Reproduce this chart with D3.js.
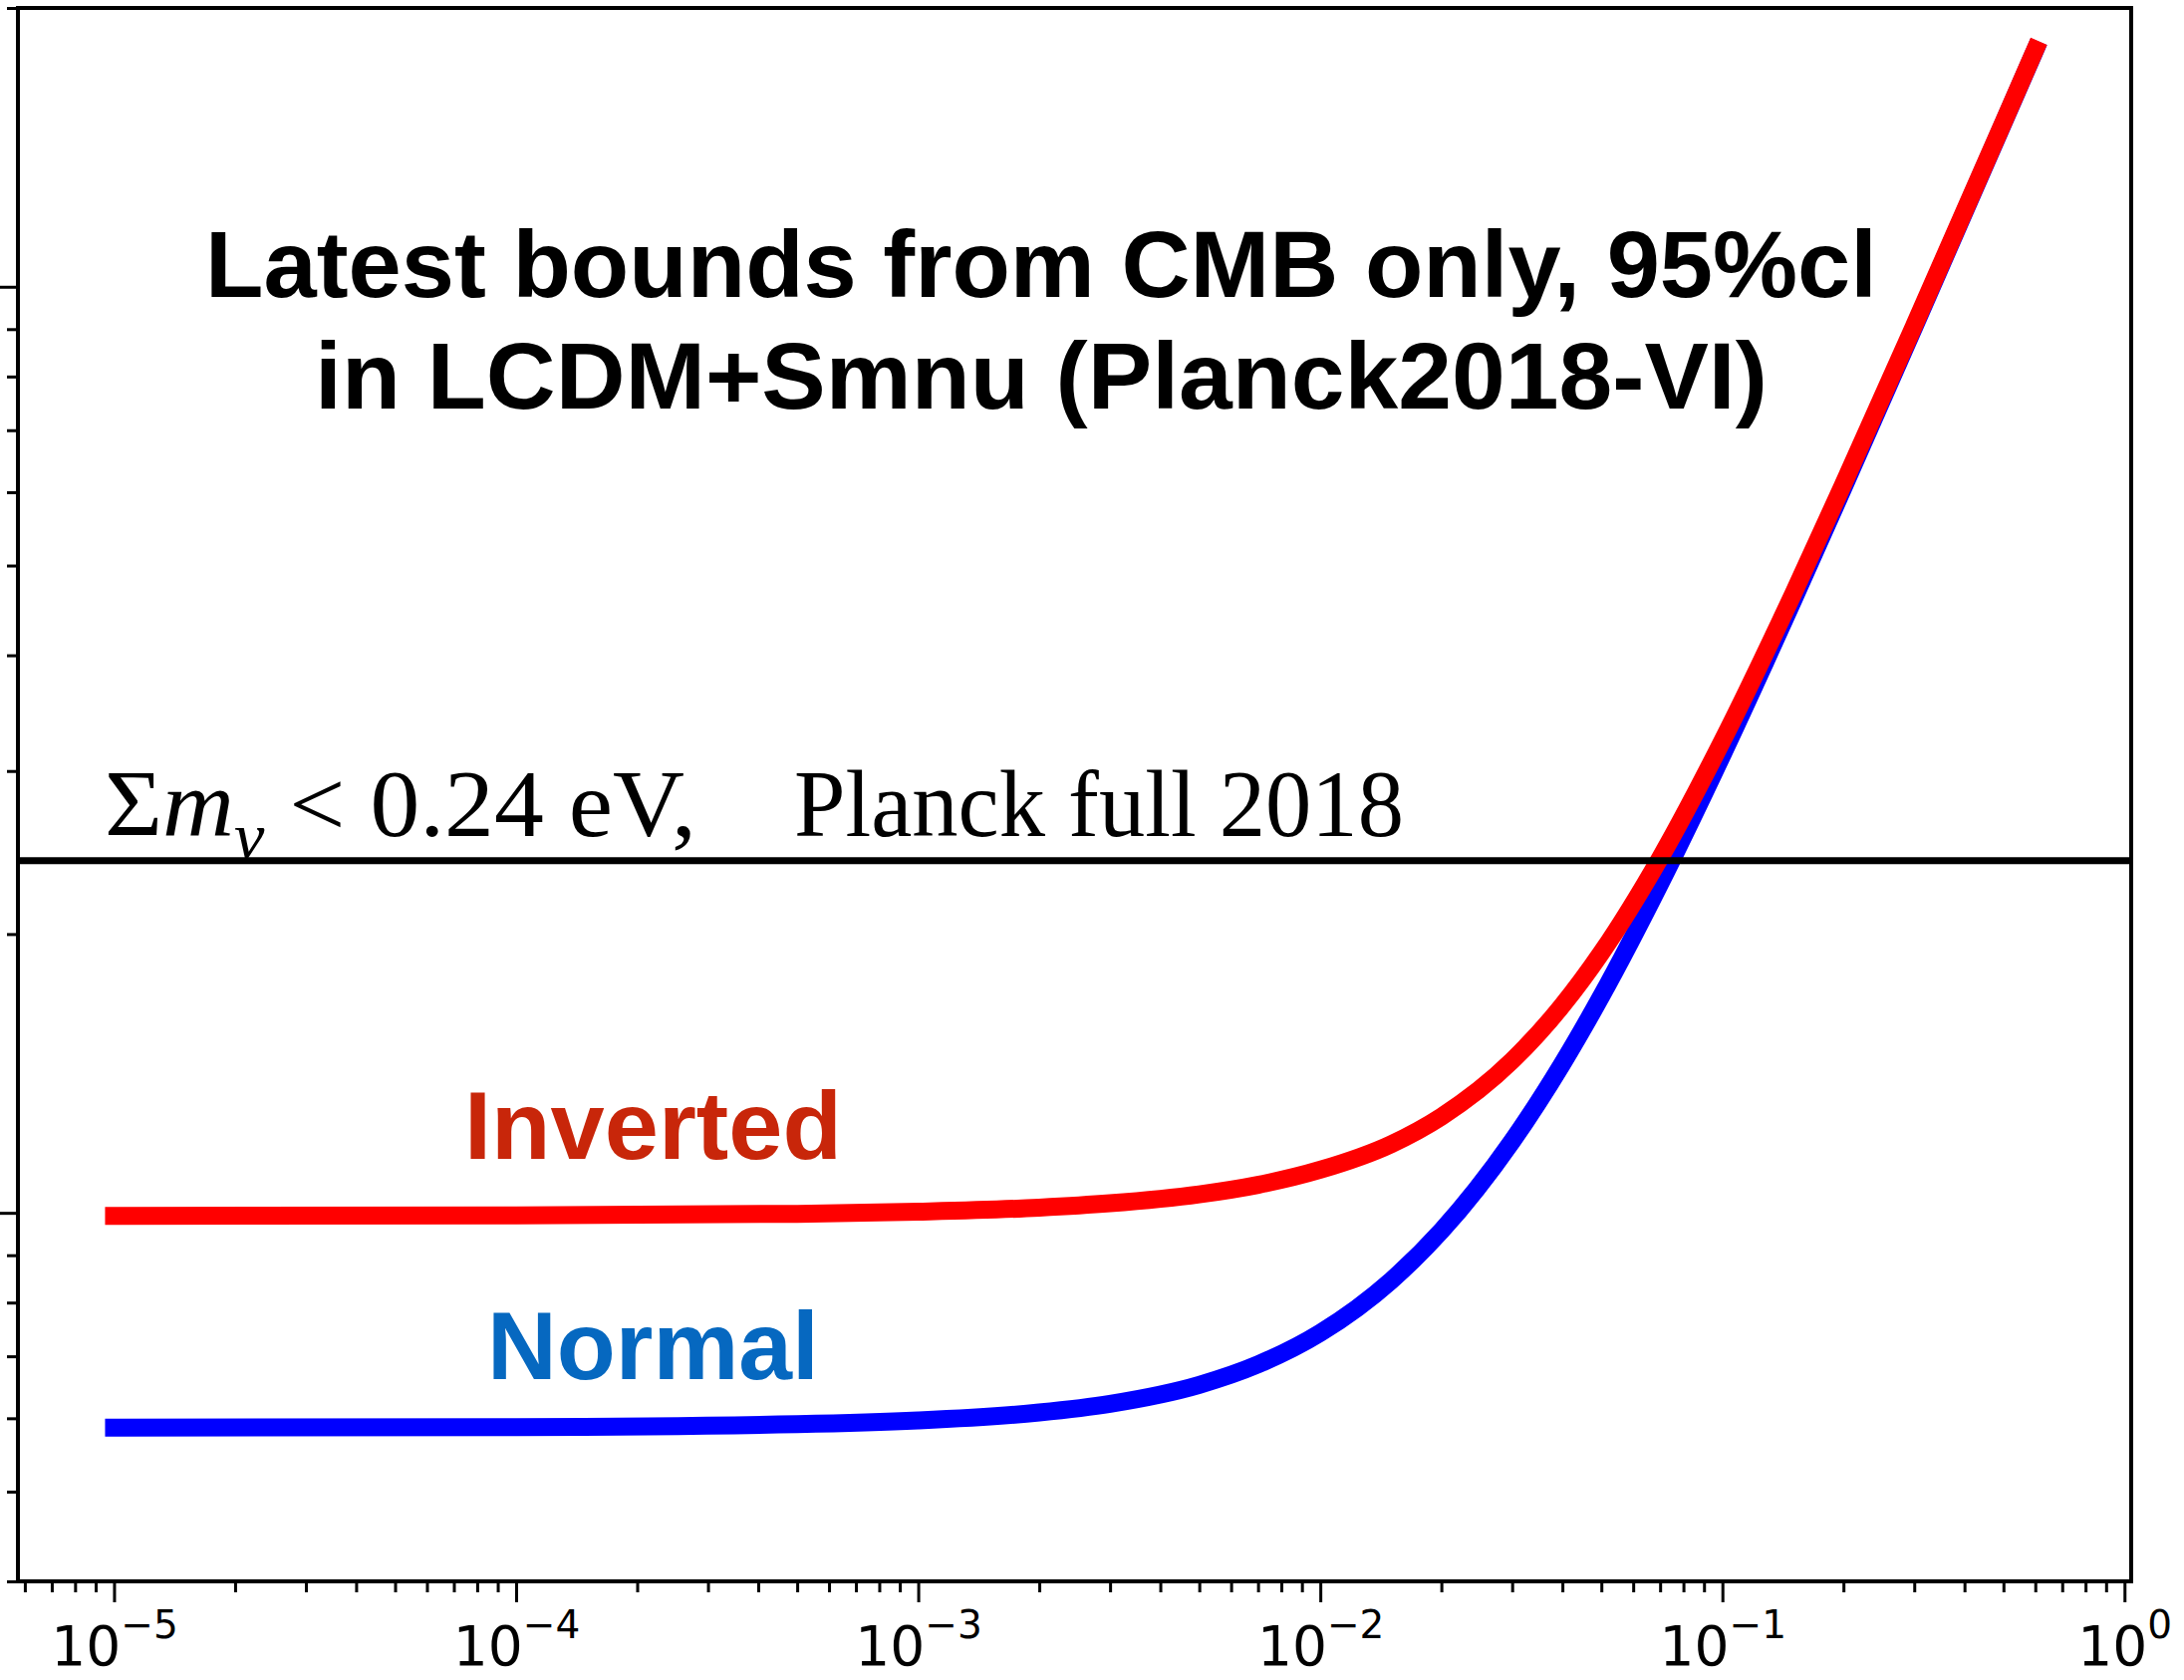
<!DOCTYPE html>
<html>
<head>
<meta charset="utf-8">
<script src="https://cdn.jsdelivr.net/npm/d3@7"></script>
<style>
  html, body { margin: 0; padding: 0; background: #ffffff; }
  svg { display: block; }
</style>
</head>
<body>
<svg id="chart" width="2192" height="1686"></svg>
<script>
// Lightest neutrino mass (eV) and the resulting sum of masses (eV)
const lightestMass = [1e-5, 1e-4, 5e-4, 1e-3, 2e-3, 3e-3, 5e-3, 7e-3, 1e-2, 1.5e-2, 2e-2, 3e-2, 4e-2, 5e-2, 7e-2, 0.1, 0.15, 0.2, 0.3, 0.5, 0.6];
const sumNormal    = [0.05861, 0.0587, 0.05912, 0.05967, 0.06087, 0.0622, 0.0652, 0.0686, 0.0742, 0.0845, 0.0956, 0.1195, 0.1449, 0.1714, 0.2266, 0.3122, 0.4584, 0.6064, 0.9043, 1.5026, 1.8022];
const sumInverted  = [0.09926, 0.09935, 0.09976, 0.1003, 0.1013, 0.1024, 0.1047, 0.1072, 0.1113, 0.1186, 0.1270, 0.1460, 0.1675, 0.1909, 0.2416, 0.3233, 0.4660, 0.6122, 0.9082, 1.5049, 1.8041];

// Upper bound on the sum of masses
const planckBound = 0.24;

// Axis ticks
const xMajorTicks = [1e-5, 1e-4, 1e-3, 1e-2, 1e-1, 1];
const xTickExponents = ["\u22125", "\u22124", "\u22123", "\u22122", "\u22121", "0"];
const yMajorTicks = [0.1, 1];

const titleLines = ["Latest bounds from CMB only, 95%cl", "in LCDM+Smnu (Planck2018-VI)"];

const svg = d3.select("#chart");
const W = 2192, H = 1686;
const plot = { left: 18, right: 2139, top: 8, bottom: 1587 };

svg.append("rect").attr("width", W).attr("height", H).attr("fill", "#ffffff");

const x = d3.scaleLog().domain([Math.pow(10, -5.239), Math.pow(10, 0.0167)]).range([plot.left, plot.right]);
const y = d3.scaleLog().domain([0.04, 2]).range([plot.bottom, plot.top]);

// minor ticks: 2..9 times each power of ten inside the domains
function minorTicks(scale) {
  const [a, b] = scale.domain();
  const out = [];
  for (let e = Math.floor(Math.log10(a)); e <= Math.ceil(Math.log10(b)); e++) {
    for (let k = 2; k <= 9; k++) {
      const v = k * Math.pow(10, e);
      if (v >= a * 0.999 && v <= b * 1.001) out.push(v);
    }
  }
  return out;
}

function styleAxis(g) {
  g.select(".domain").remove();
  g.selectAll(".tick line").attr("stroke", "#000").attr("stroke-width", 3);
  g.selectAll(".tick text").remove();
}

// x axis: minor then major ticks
svg.append("g").attr("transform", `translate(0,${plot.bottom})`)
  .call(d3.axisBottom(x).tickValues(minorTicks(x)).tickSize(11).tickFormat(""))
  .call(styleAxis);
const xMajor = svg.append("g").attr("transform", `translate(0,${plot.bottom})`)
  .call(d3.axisBottom(x).tickValues(xMajorTicks).tickSize(21).tickFormat(""))
  .call(styleAxis);

// y axis: minor then major ticks (no labels)
svg.append("g").attr("transform", `translate(${plot.left},0)`)
  .call(d3.axisLeft(y).tickValues(minorTicks(y)).tickSize(11).tickFormat(""))
  .call(styleAxis);
svg.append("g").attr("transform", `translate(${plot.left},0)`)
  .call(d3.axisLeft(y).tickValues(yMajorTicks).tickSize(21).tickFormat(""))
  .call(styleAxis);

// x tick labels as powers of ten
xMajor.selectAll(".tick").each(function(d, i) {
  const t = d3.select(this).append("text")
    .attr("x", 0).attr("y", 84)
    .attr("text-anchor", "middle")
    .attr("fill", "#000")
    .attr("font-family", "'DejaVu Sans', sans-serif")
    .attr("font-size", 55);
  t.append("tspan").text("10");
  t.append("tspan").attr("font-size", 39).attr("dy", -27).text(xTickExponents[i]);
});

// curves
const line = d3.line()
  .x((d, i) => x(lightestMass[i]))
  .y(d => y(d))
  .curve(d3.curveMonotoneX);

svg.append("path").datum(sumNormal)
  .attr("d", line)
  .attr("fill", "none").attr("stroke", "#0000ff")
  .attr("stroke-width", 18).attr("stroke-linecap", "square");

svg.append("path").datum(sumInverted)
  .attr("d", line)
  .attr("fill", "none").attr("stroke", "#ff0000")
  .attr("stroke-width", 18).attr("stroke-linecap", "square");

// horizontal bound line
svg.append("line")
  .attr("x1", plot.left).attr("x2", plot.right)
  .attr("y1", y(planckBound)).attr("y2", y(planckBound))
  .attr("stroke", "#000").attr("stroke-width", 7);

// frame
svg.append("rect")
  .attr("x", plot.left).attr("y", plot.top)
  .attr("width", plot.right - plot.left).attr("height", plot.bottom - plot.top)
  .attr("fill", "none").attr("stroke", "#000").attr("stroke-width", 4);

// squeeze a text element horizontally so that it spans a given width
function fitWidth(sel, width, anchorX) {
  const w = sel.node().getBBox().width;
  const s = width / w;
  sel.attr("transform", `translate(${anchorX},0) scale(${s},1) translate(${-anchorX},0)`);
}

// title
const titleBaselines = [298, 410];
const titleWidths = [1678, 1458];
titleLines.forEach((txt, i) => {
  const t = svg.append("text")
    .attr("x", 1045).attr("y", titleBaselines[i])
    .attr("text-anchor", "middle")
    .attr("font-family", "'Liberation Sans', Arial, Helvetica, sans-serif")
    .attr("font-weight", "bold")
    .attr("font-size", 94)
    .attr("fill", "#000")
    .text(txt);
  fitWidth(t, titleWidths[i], 1045);
});

// bound annotation
const serif = "'Liberation Serif', 'Times New Roman', Times, serif";
const ann = svg.append("text")
  .attr("x", 105).attr("y", 839)
  .attr("font-family", serif).attr("font-size", 96).attr("fill", "#000");
ann.append("tspan").text("\u03A3");
ann.append("tspan").attr("font-style", "italic").text("m");
ann.append("tspan").attr("font-style", "italic").attr("font-size", 66).attr("dy", 22).text("\u03BD");
ann.append("tspan").attr("dy", -22).text(" < 0.24 eV,");
fitWidth(ann, 594, 105);

const ann2 = svg.append("text")
  .attr("x", 797).attr("y", 839)
  .attr("font-family", serif).attr("font-size", 96).attr("fill", "#000")
  .text("Planck full 2018");
fitWidth(ann2, 612, 797);

// ordering labels
const inv = svg.append("text")
  .attr("x", 466).attr("y", 1163)
  .attr("font-family", "'Liberation Sans', Arial, sans-serif")
  .attr("font-weight", "bold").attr("font-size", 97)
  .attr("fill", "#c8260a").text("Inverted");
fitWidth(inv, 379, 466);

const nor = svg.append("text")
  .attr("x", 489).attr("y", 1384)
  .attr("font-family", "'Liberation Sans', Arial, sans-serif")
  .attr("font-weight", "bold").attr("font-size", 97)
  .attr("fill", "#0668c0").text("Normal");
fitWidth(nor, 333, 489);
</script>
</body>
</html>
